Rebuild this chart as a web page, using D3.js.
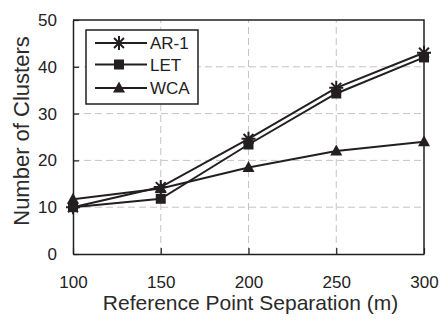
<!DOCTYPE html>
<html>
<head>
<meta charset="utf-8">
<script src="https://cdn.jsdelivr.net/npm/d3@7/dist/d3.min.js"></script>
<style>
  html, body { margin: 0; padding: 0; background: #fff; }
  svg { display: block; font-family: "Liberation Sans", Arial, Helvetica, sans-serif; }
</style>
</head>
<body>
<svg id="chart" width="441" height="322"></svg>
<script>
// Reference point separation (m)
const separations = [100, 150, 200, 250, 300];
// Number of clusters per algorithm
const ar1 = [10, 14.3, 24.6, 35.5, 43];
const let_ = [10, 11.8, 23.4, 34.3, 42];
const wca = [11.7, 14.0, 18.5, 22.0, 24.0];
const seriesNames = ["AR-1", "LET", "WCA"];
const seriesShapes = ["asterisk", "square", "triangle"];
const yTicks = [0, 10, 20, 30, 40, 50];

const ink = "#231f20";
const svg = d3.select("#chart");
const margin = { left: 73, right: 17, top: 20, bottom: 68 };
const W = 441, H = 322;

const x = d3.scaleLinear().domain([100, 300]).range([margin.left, W - margin.right]);
const y = d3.scaleLinear().domain([0, 50]).range([H - margin.bottom, margin.top]);

// dashed grid
const grid = svg.append("g");
grid.selectAll("line.gy").data(yTicks.filter(d => d > 0 && d < 50)).join("line")
  .attr("x1", x(100)).attr("x2", x(300))
  .attr("y1", d => y(d)).attr("y2", d => y(d))
  .attr("stroke", "#c4c4c4").attr("stroke-width", 1).attr("stroke-dasharray", "7,4");
grid.selectAll("line.gx").data(separations.filter(d => d > 100 && d < 300)).join("line")
  .attr("y1", y(0)).attr("y2", y(50))
  .attr("x1", d => x(d)).attr("x2", d => x(d))
  .attr("stroke", "#c4c4c4").attr("stroke-width", 1).attr("stroke-dasharray", "7,4");

// axes with inward ticks
const xAxis = svg.append("g").attr("transform", `translate(0,${y(0)})`)
  .call(d3.axisBottom(x).tickValues(separations).tickSizeInner(-6).tickSizeOuter(0).tickPadding(22));
const yAxis = svg.append("g").attr("transform", `translate(${x(100)},0)`)
  .call(d3.axisLeft(y).tickValues(yTicks).tickSizeInner(-6).tickSizeOuter(0).tickPadding(16));
[xAxis, yAxis].forEach(a => {
  a.select(".domain").attr("stroke", ink).attr("stroke-width", 1.5);
  a.selectAll(".tick line").attr("stroke", ink).attr("stroke-width", 1.2);
  a.selectAll(".tick text").attr("fill", "#222").attr("font-size", 17)
    .attr("font-family", "'Liberation Sans', Arial, sans-serif");
});

// top and right frame
svg.append("path")
  .attr("d", `M${x(100)},${y(50)}H${x(300)}V${y(0)}`)
  .attr("fill", "none").attr("stroke", ink).attr("stroke-width", 1.5);

// axis titles
svg.append("text").attr("x", (x(100) + x(300)) / 2 + 2).attr("y", 310)
  .attr("text-anchor", "middle").attr("font-size", 21).attr("fill", "#2a2a2a")
  .text("Reference Point Separation (m)");
svg.append("text").attr("transform", `translate(29,${(y(0) + y(50)) / 2 - 6}) rotate(-90)`)
  .attr("text-anchor", "middle").attr("font-size", 22).attr("fill", "#2a2a2a")
  .text("Number of Clusters");

// marker drawing
function drawMarker(g, shape, cx, cy) {
  if (shape === "square") {
    g.append("rect").attr("x", cx - 5).attr("y", cy - 5).attr("width", 10).attr("height", 10)
      .attr("fill", ink);
  } else if (shape === "triangle") {
    g.append("path").attr("d", `M${cx},${cy - 6.5}L${cx + 6},${cy + 4.5}L${cx - 6},${cy + 4.5}Z`)
      .attr("fill", ink);
  } else {
    const r = 7;
    const p = [];
    for (let k = 0; k < 4; k++) {
      const a = k * Math.PI / 4 + Math.PI / 2;
      p.push(`M${cx - r * Math.cos(a)},${cy - r * Math.sin(a)}L${cx + r * Math.cos(a)},${cy + r * Math.sin(a)}`);
    }
    g.append("path").attr("d", p.join("")).attr("stroke", ink).attr("stroke-width", 2).attr("fill", "none");
  }
}

const allSeries = [ar1, let_, wca];
const line = d3.line().x((d, i) => x(separations[i])).y(d => y(d));
const plot = svg.append("g");
allSeries.forEach((vals, si) => {
  plot.append("path").datum(vals).attr("d", line)
    .attr("fill", "none").attr("stroke", ink).attr("stroke-width", 2);
});
allSeries.forEach((vals, si) => {
  vals.forEach((v, i) => drawMarker(plot, seriesShapes[si], x(separations[i]), y(v)));
});

// legend
const lg = svg.append("g");
lg.append("rect").attr("x", 86).attr("y", 30).attr("width", 112).attr("height", 74)
  .attr("fill", "#fff").attr("stroke", ink).attr("stroke-width", 1.5);
const rowsY = [43, 64.5, 88];
seriesNames.forEach((name, i) => {
  lg.append("line").attr("x1", 95).attr("x2", 147).attr("y1", rowsY[i]).attr("y2", rowsY[i])
    .attr("stroke", ink).attr("stroke-width", 2);
  drawMarker(lg, seriesShapes[i], 119, rowsY[i]);
  lg.append("text").attr("x", 150).attr("y", rowsY[i] + 6).attr("font-size", 17)
    .attr("fill", "#222").text(name);
});
</script>
</body>
</html>
